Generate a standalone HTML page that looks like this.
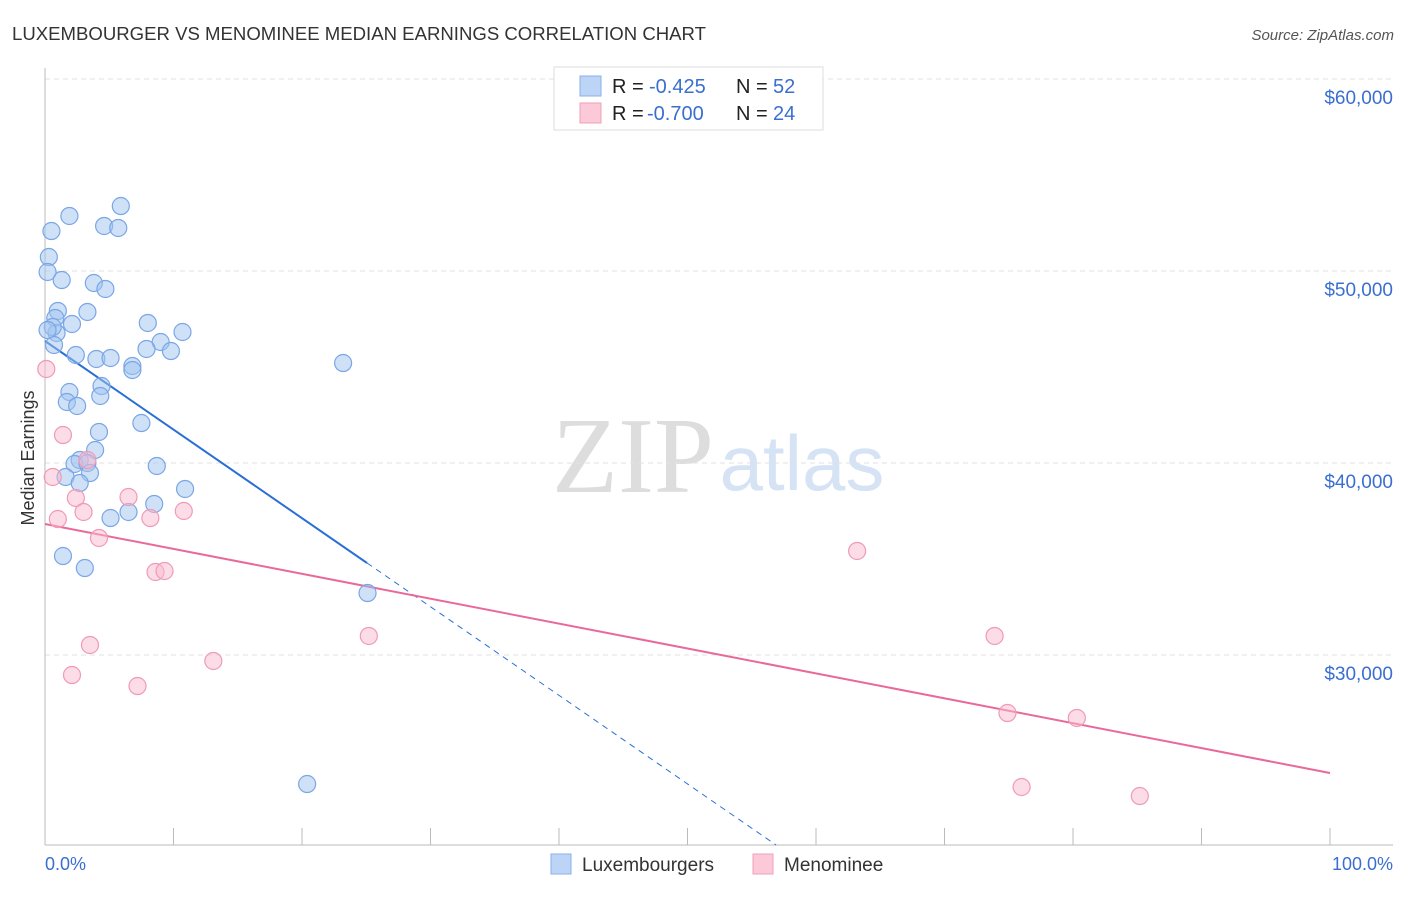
<!DOCTYPE html>
<html><head><meta charset="utf-8"><style>
body{margin:0;background:#fff;font-family:"Liberation Sans",sans-serif}
svg text{font-family:"Liberation Sans",sans-serif}
</style></head><body>
<svg id="chart" width="1406" height="892">
<text x="12" y="40" font-size="18" fill="#333" textLength="694" lengthAdjust="spacingAndGlyphs">LUXEMBOURGER VS MENOMINEE MEDIAN EARNINGS CORRELATION CHART</text>
<text x="1394" y="40" font-size="15" fill="#555" font-style="italic" text-anchor="end">Source: ZipAtlas.com</text>
<text x="34" y="458" font-size="18" fill="#333" text-anchor="middle" transform="rotate(-90 34 458)">Median Earnings</text>
<text x="633" y="492" font-size="108" fill="#ddd" text-anchor="middle" style="font-family:'Liberation Serif',serif">ZIP</text>
<text x="802" y="490" font-size="78" fill="#d6e3f5" text-anchor="middle">atlas</text>
<g id="grid"></g><g id="axes"></g><g id="lines"></g><g id="pts"></g>
<g>
<rect x="554" y="67" width="269" height="63" fill="#fff" stroke="#ddd"/>
<rect x="580" y="76" width="21" height="20" fill="#bcd4f6" stroke="#8ab0e8"/>
<text x="612" y="93" font-size="20" fill="#222">R =</text>
<text x="649" y="93" font-size="20" fill="#3a6fd0">-0.425</text>
<text x="736" y="93" font-size="20" fill="#222">N =</text>
<text x="773" y="93" font-size="20" fill="#3a6fd0">52</text>
<rect x="580" y="103" width="21" height="20" fill="#fbc9d8" stroke="#f0a0ba"/>
<text x="612" y="120" font-size="20" fill="#222">R =</text>
<text x="647" y="120" font-size="20" fill="#3a6fd0">-0.700</text>
<text x="736" y="120" font-size="20" fill="#222">N =</text>
<text x="773" y="120" font-size="20" fill="#3a6fd0">24</text>
</g>
<g>
<rect x="551" y="854" width="20" height="20" fill="#bcd4f6" stroke="#8ab0e8"/>
<text x="582" y="871" font-size="19" fill="#333">Luxembourgers</text>
<rect x="753" y="854" width="20" height="20" fill="#fbc9d8" stroke="#f0a0ba"/>
<text x="784" y="871" font-size="19" fill="#333">Menominee</text>
</g>
<text x="45" y="870" font-size="18" fill="#3a6fd0">0.0%</text>
<text x="1393" y="870" font-size="18" fill="#3a6fd0" text-anchor="end">100.0%</text>
</svg>
<script>
const yTicks=[60000,50000,40000,30000];
const yTickLabels=["$60,000","$50,000","$40,000","$30,000"];
const xTicks=[0,10,20,30,40,50,60,70,80,90,100];
const luxX=[5.9,1.9,4.6,5.7,0.5,0.3,0.2,1.3,3.8,4.7,1.0,3.3,0.8,2.1,8.0,10.7,0.9,0.6,0.7,9.0,7.9,9.8,2.4,4.0,5.1,6.8,6.8,23.2,4.4,1.9,4.3,1.7,2.5,7.5,4.2,3.9,2.7,2.3,3.3,8.7,1.6,3.5,2.7,10.9,8.5,6.5,5.1,1.4,3.1,25.1,20.4,0.2];
const luxY=[53385,52865,52344,52240,52083,50729,49948,49531,49375,49063,47917,47865,47552,47240,47292,46823,46771,47083,46146,46302,45938,45833,45625,45417,45469,45052,44844,45208,44010,43698,43490,43177,42969,42083,41615,40677,40156,39948,40000,39844,39271,39479,38958,38646,37865,37448,37135,35156,34531,33229,23281,46927];
const menX=[0.1,1.4,0.6,2.4,6.5,1.0,3.0,8.2,10.8,4.2,8.6,9.3,3.5,13.1,2.1,7.2,25.2,63.2,73.9,74.9,80.3,76.0,85.2,3.3];
const menY=[44896,41458,39271,38177,38229,37083,37448,37135,37500,36094,34323,34375,30521,29688,28958,28385,30990,35417,30990,26979,26719,23125,22656,40156];
const luxTrend=[46354,34792,25.06];
const menTrend=[36823,23854];
const NS="http://www.w3.org/2000/svg";
const X=p=>45+p*12.85, Y=v=>271+(50000-v)*0.0192;
function mk(t,a,parent){const e=document.createElementNS(NS,t);for(const k in a)e.setAttribute(k,a[k]);document.getElementById(parent).appendChild(e);return e;}
yTicks.forEach((v,i)=>{
 const l=mk('line',{x1:45,x2:1393,y1:Y(v),y2:Y(v),stroke:'#e2e2e2','stroke-dasharray':'5,4'},'grid');
 
 
 const t=mk('text',{x:1393,y:Y(v)+25,'font-size':19,fill:'#3a6fd0','text-anchor':'end'},'grid');
 t.textContent=yTickLabels[i];
 
 
});
const ax=mk('line',{x1:45,x2:45,y1:68,y2:845,stroke:'#bbb'},'axes');


const bx=mk('line',{x1:45,x2:1393,y1:845,y2:845,stroke:'#bbb'},'axes');


xTicks.forEach(p=>{const t=mk('line',{x1:X(p),x2:X(p),y1:828,y2:845,stroke:'#bbb'},'axes');
 
 });
function pts(xs,ys,fill,stroke,name){xs.forEach((x,i)=>{const c=mk('circle',{cx:X(x),cy:Y(ys[i]),r:8.5,fill:fill,stroke:stroke,'stroke-width':1.2},'pts');
 
 });}
pts(luxX,luxY,'rgba(160,195,240,0.5)','#7aa6e6','luxembourger-point');
pts(menX,menY,'rgba(250,185,205,0.5)','#f09ab6','menominee-point');
const slope=(luxTrend[1]-luxTrend[0])/luxTrend[2];
const bl=mk('line',{x1:X(0),y1:Y(luxTrend[0]),x2:X(luxTrend[2]),y2:Y(luxTrend[1]),stroke:'#2a6fd6','stroke-width':2},'lines');


const yEnd=50000-(845-271)/0.0192;
const xe=(yEnd-luxTrend[0])/slope;
const bd=mk('line',{x1:X(luxTrend[2]),y1:Y(luxTrend[1]),x2:X(xe),y2:Y(yEnd),stroke:'#2a6fd6','stroke-width':1,'stroke-dasharray':'6,5'},'lines');


const pl=mk('line',{x1:X(0),y1:Y(menTrend[0]),x2:X(100),y2:Y(menTrend[1]),stroke:'#e8699a','stroke-width':2},'lines');


</script>
</body></html>
